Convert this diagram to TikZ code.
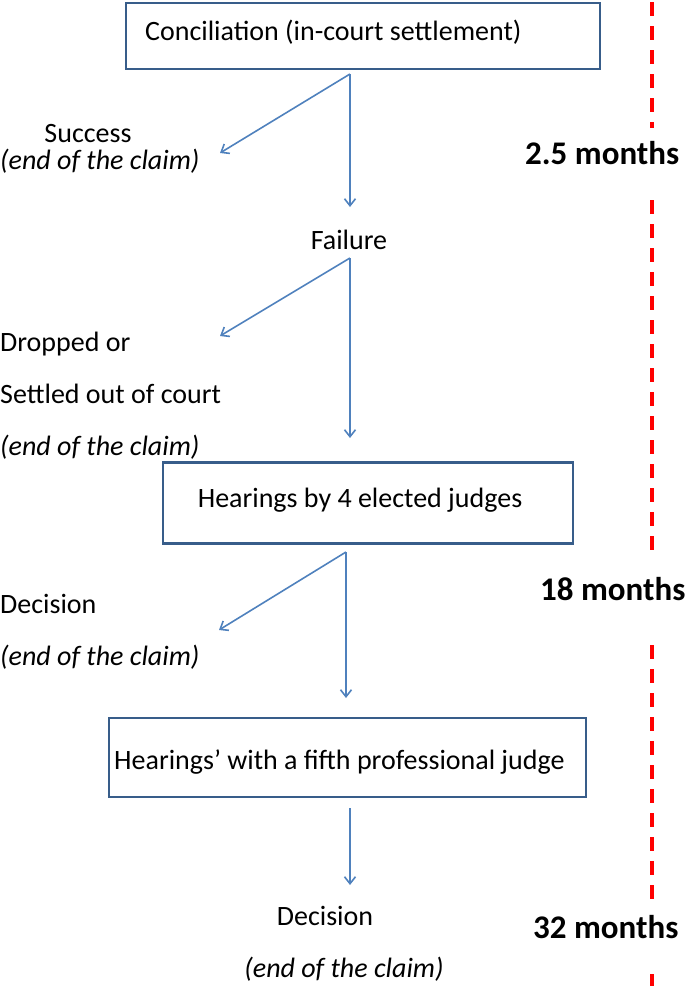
\documentclass[tikz,border=0pt]{standalone}
\usepackage{fontspec}
\setmainfont{Carlito}
\usetikzlibrary{arrows.meta}
\definecolor{arrowblue}{RGB}{79,129,189}
\definecolor{boxblue}{RGB}{56,93,138}
\begin{document}
\begin{tikzpicture}[x=1pt,y=-1pt,
  box/.style={draw=boxblue, line width=2.2pt, inner sep=0pt},
  txt/.style={font=\fontsize{28}{33}\selectfont, inner sep=0pt},
  ital/.style={font=\fontsize{28}{33}\selectfont\itshape, inner sep=0pt},
  months/.style={font=\fontsize{33}{40}\selectfont\bfseries, inner sep=0pt, anchor=base west},
  flow/.style={draw=arrowblue, line width=1.6pt, -{Straight Barb[length=7pt,width=11pt,line width=1.6pt]}},
  timeline/.style={draw=red, line width=3.5pt, dash pattern=on 14pt off 10pt}]
\useasboundingbox (0,0) rectangle (685,986);

% boxes
\node[box, minimum width=474, minimum height=66] (b1) at (363,36) {};
\node[txt, anchor=mid west] (b1t) at (145,38) {Conciliation (in-court settlement)};
\node[box, minimum width=410, minimum height=81] (b2) at (368,503) {};
\node[txt, anchor=mid] (b2t) at (360,505) {Hearings by 4 elected judges};
\node[box, minimum width=477, minimum height=79] (b3) at (347.5,757.5) {};
\node[txt, anchor=mid west] (b3t) at (114,767) {Hearings’ with a fifth professional judge};

% outcome texts
\node[txt, anchor=mid] (succ) at (88,140) {Success};
\node[ital, anchor=mid west] (end1) at (0,167) {(end of the claim)};
\node[txt, anchor=mid] (fail) at (349,247) {Failure};
\node[txt, anchor=mid west] (drop) at (0,349) {Dropped or};
\node[txt, anchor=mid west] (settle) at (0,401) {Settled out of court};
\node[ital, anchor=mid west] (end2) at (0,453) {(end of the claim)};
\node[txt, anchor=mid west] (dec1) at (0,611) {Decision};
\node[ital, anchor=mid west] (end3) at (0,663) {(end of the claim)};
\node[txt, anchor=mid] (dec2) at (325,923) {Decision};
\node[ital, anchor=mid] (end4) at (344,975) {(end of the claim)};

% months
\node[months] (m1) at (525,164) {2.5 months};
\node[months] (m2) at (540,600) {18 months};
\node[months] (m3) at (533,938) {32 months};

% arrow coordinates
\coordinate (a1s) at (350,74);
\coordinate (a1e) at (350,207);
\coordinate (a1d) at (220,153);
\coordinate (a2s) at (350,258);
\coordinate (a2e) at (350,438);
\coordinate (a2d) at (220,336);
\coordinate (a3s) at (346,552);
\coordinate (a3e) at (346,698);
\coordinate (a3d) at (219,630);
\coordinate (a4s) at (350,808);
\coordinate (a4e) at (350,885);

\draw[flow] (a1s) -- (a1e);
\draw[flow] (a1s) -- (a1d);
\draw[flow] (a2s) -- (a2e);
\draw[flow] (a2s) -- (a2d);
\draw[flow] (a3s) -- (a3e);
\draw[flow] (a3s) -- (a3d);
\draw[flow] (a4s) -- (a4e);

% timeline
\coordinate (t0) at (652,2);
\coordinate (t1) at (652,128);
\coordinate (t2) at (652,200);
\coordinate (t3) at (652,557);
\coordinate (t4) at (652,645);
\coordinate (t5) at (652,900);
\coordinate (t6) at (652,974);
\coordinate (t7) at (652,986);
\draw[timeline] (t0) -- (t1);
\draw[timeline] (t2) -- (t3);
\draw[timeline] (t4) -- (t5);
\draw[timeline] (t6) -- (t7);
\end{tikzpicture}
\end{document}
